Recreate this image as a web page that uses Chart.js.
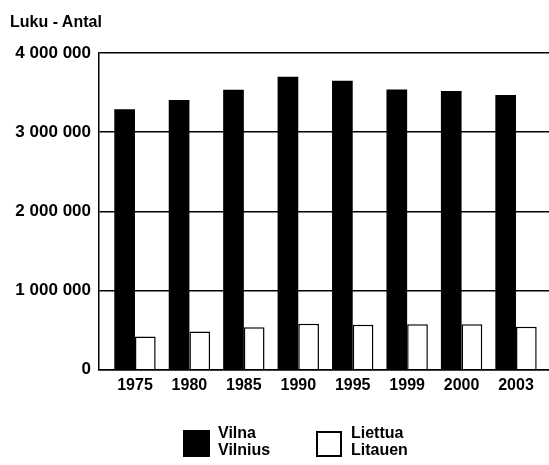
<!DOCTYPE html>
<html>
<head>
<meta charset="utf-8">
<script src="https://cdn.jsdelivr.net/npm/chart.js@4"></script>
<style>
  body { margin: 0; background: #fff; }
  #wrap { position: relative; width: 549px; height: 465px; font-family: "Liberation Sans", Arial, sans-serif; font-size: 16px; line-height: 17px; color: #000; font-weight: bold; }
  #chart { position: absolute; left: 0; top: 0; }
  .txt { position: absolute; white-space: nowrap; }
  .box { position: absolute; box-sizing: border-box; }
</style>
</head>
<body>
<div id="wrap">
  <canvas id="chart" width="549" height="465"></canvas>
  <div class="txt" id="yTitle" style="left:10px; top:13px;">Luku - Antal</div>
  <div id="legend"></div>
</div>
<script>
// Vuodet ja väkiluvut
var years = ["1975", "1980", "1985", "1990", "1995", "1999", "2000", "2003"];
var vilnaLabel = ["Vilna", "Vilnius"];
var liettuaLabel = ["Liettua", "Litauen"];
var vilnaValues = [3291000, 3405000, 3536000, 3700000, 3650000, 3540000, 3519000, 3470000];
var liettuaValues = [422000, 485000, 536000, 582000, 570000, 574000, 574000, 544000];
var yTicks = [0, 1000000, 2000000, 3000000, 4000000];

// tuhaterotin välilyönnillä
function fmt(v) {
    return String(v).replace(/\B(?=(\d{3})+(?!\d))/g, " ");
}

function points(values) {
    return values.map(function (v, i) { return { x: i, y: v }; });
}

var ctx = document.getElementById("chart").getContext("2d");
var chart = new Chart(ctx, {
    type: "bar",
    data: {
        datasets: [{
            label: vilnaLabel.join(" / "),
            data: points(vilnaValues),
            backgroundColor: "#000",
            borderWidth: 0
        }, {
            label: liettuaLabel.join(" / "),
            data: points(liettuaValues),
            backgroundColor: "#fff",
            borderColor: "#000",
            borderWidth: 1.5
        }]
    },
    options: {
        responsive: false,
        animation: false,
        layout: { padding: { top: 53, left: 0, right: 0, bottom: 64 } },
        datasets: { bar: { categoryPercentage: 0.76, barPercentage: 1.0 } },
        plugins: { legend: { display: false }, tooltip: { enabled: false } },
        scales: {
            x: {
                type: "linear",
                min: -0.661,
                max: 7.606,
                offset: false,
                afterBuildTicks: function (scale) {
                    scale.ticks = years.map(function (y, i) { return { value: i }; });
                },
                grid: { display: false, drawTicks: false },
                border: { display: true, color: "#000", width: 1.5 },
                ticks: {
                    autoSkip: false,
                    maxRotation: 0,
                    padding: 6,
                    color: "#000",
                    font: { family: "'Liberation Sans', Arial, sans-serif", size: 16, weight: "bold" },
                    callback: function (v) { return years[v]; }
                }
            },
            y: {
                min: 0,
                max: 4000000,
                afterBuildTicks: function (scale) {
                    scale.ticks = yTicks.map(function (v) { return { value: v }; });
                },
                afterFit: function (scale) { scale.width = 99; },
                grid: { color: "#000", lineWidth: 1.5, drawTicks: false },
                border: { display: true, color: "#000", width: 1.5 },
                ticks: {
                    padding: 8,
                    color: "#000",
                    font: { family: "'Liberation Sans', Arial, sans-serif", size: 17, weight: "bold" },
                    callback: function (v) { return fmt(v); }
                }
            }
        }
    }
});

// Selite: värilaatikot ja kaksiriviset nimet
var legend = document.getElementById("legend");
var items = [
    { lines: vilnaLabel, box: { left: 183, top: 430, w: 27, h: 27, fill: "#000", border: "none" }, textLeft: 218 },
    { lines: liettuaLabel, box: { left: 316, top: 431, w: 26, h: 26, fill: "#fff", border: "2px solid #000" }, textLeft: 351 }
];
items.forEach(function (it) {
    var b = document.createElement("div");
    b.className = "box";
    b.style.left = it.box.left + "px";
    b.style.top = it.box.top + "px";
    b.style.width = it.box.w + "px";
    b.style.height = it.box.h + "px";
    b.style.background = it.box.fill;
    b.style.border = it.box.border;
    legend.appendChild(b);
    var t = document.createElement("div");
    t.className = "txt";
    t.style.left = it.textLeft + "px";
    t.style.top = "424px";
    t.innerHTML = it.lines.join("<br>");
    legend.appendChild(t);
});
</script>
</body>
</html>
